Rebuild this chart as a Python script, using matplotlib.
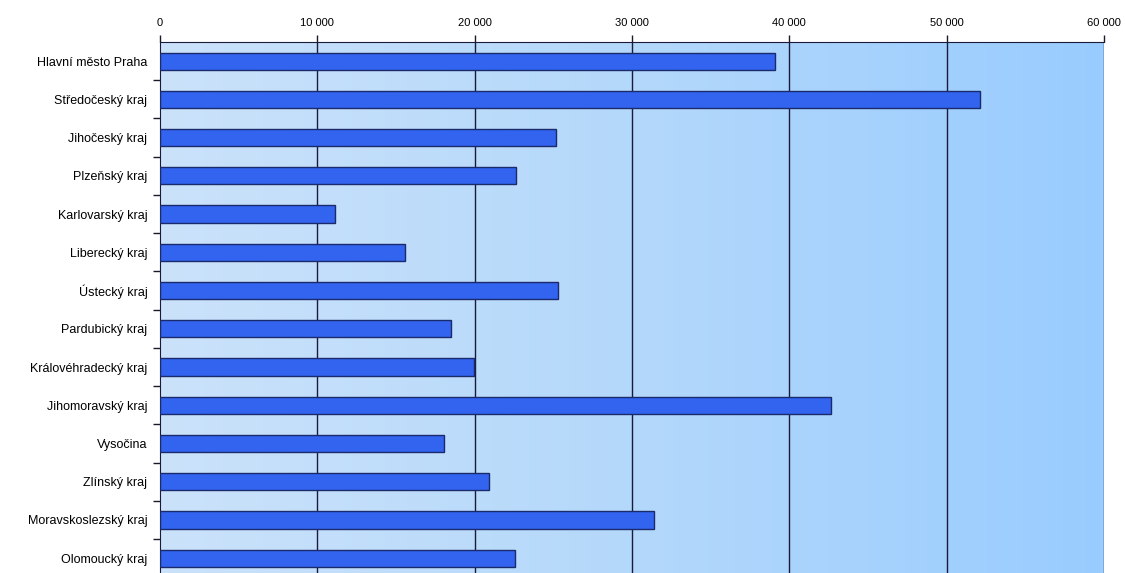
import numpy as np
import matplotlib.pyplot as plt
from matplotlib.colors import LinearSegmentedColormap

plt.rcParams['font.family'] = ['Liberation Sans', 'DejaVu Sans']

kraje = ['Hlavní město Praha', 'Středočeský kraj', 'Jihočeský kraj', 'Plzeňský kraj',
         'Karlovarský kraj', 'Liberecký kraj', 'Ústecký kraj', 'Pardubický kraj',
         'Královéhradecký kraj', 'Jihomoravský kraj', 'Vysočina', 'Zlínský kraj',
         'Moravskoslezský kraj', 'Olomoucký kraj']
hodnoty = [39100, 52100, 25200, 22600, 11100, 15600, 25300, 18500,
           19950, 42650, 18050, 20900, 31400, 22550]
xticks = [0, 10000, 20000, 30000, 40000, 50000, 60000]
xlabels = ['0', '10 000', '20 000', '30 000', '40 000', '50 000', '60 000']

fig = plt.figure(figsize=(11.25, 5.73), dpi=100)
ax = fig.add_axes([0.1422, -0.0075, 0.8391, 0.9342])

# gradient pozadi
cmap = LinearSegmentedColormap.from_list('bg', ['#cbe2fa', '#b4d8fb', '#99ccff'])
grad = np.linspace(0, 1, 256).reshape(1, -1)
ax.imshow(grad, cmap=cmap, aspect='auto', extent=[0, 60000, 13.5, -0.5], zorder=0)

y = np.arange(len(kraje))
ax.barh(y, hodnoty, height=0.45, color='#3264f0', edgecolor='#1a2a6a', linewidth=1, zorder=3)

ax.set_xlim(0, 60000)
ax.set_ylim(13.5, -0.5)
ax.xaxis.tick_top()
ax.set_xticks(xticks)
ax.set_xticklabels(xlabels, fontsize=8)
ax.tick_params(axis='x', length=5, width=1, color='#1a1a2a', pad=5)
ax.set_yticks(y)
ax.set_yticklabels(kraje, fontsize=9)
ax.set_yticks(np.arange(len(kraje)) + 0.5, minor=True)
ax.tick_params(axis='y', which='major', length=0, pad=9)
ax.tick_params(axis='y', which='minor', length=5, width=1, color='#1a1a2a')

for x in xticks[1:]:
    ax.axvline(x, color='#1a1a3a', linewidth=1, zorder=2)

for s in ['bottom', 'right']:
    ax.spines[s].set_visible(False)
ax.spines['top'].set_color('#1a1a3a')
ax.spines['left'].set_color('#1a1a3a')

fig.savefig('out.png', dpi=100)
